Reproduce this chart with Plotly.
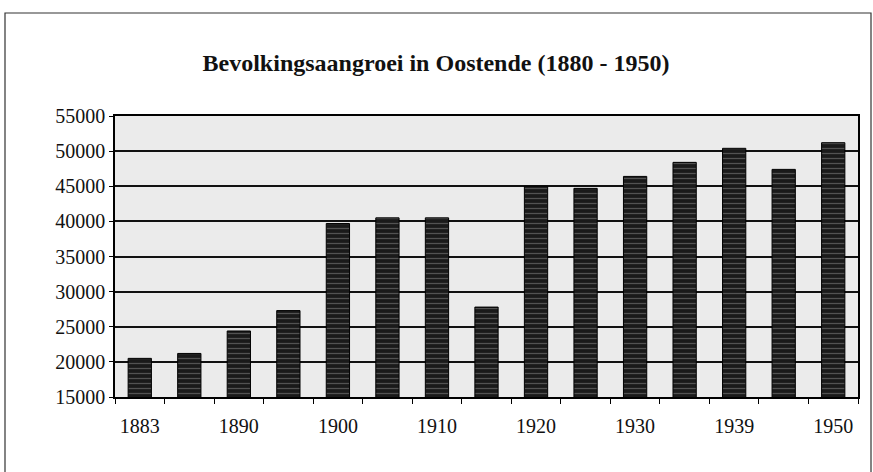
import plotly.graph_objects as go

years = ["1883", "1886", "1890", "1895", "1900", "1905", "1910", "1915",
         "1920", "1925", "1930", "1935", "1939", "1945", "1950"]
population = [20500, 21200, 24400, 27300, 39700, 40500, 40500, 27800,
              45000, 44700, 46400, 48400, 50400, 47400, 51200]
tick_years = ["1883", "1890", "1900", "1910", "1920", "1930", "1939", "1950"]
y_ticks = [15000, 20000, 25000, 30000, 35000, 40000, 45000, 50000, 55000]

x_pos = list(range(len(years)))
tick_pos = [years.index(t) for t in tick_years]

fig = go.Figure(go.Bar(
    x=x_pos, y=population, base=0,
    width=0.47,
    marker=dict(
        color="#1a1a1a",
        line=dict(color="#000000", width=1),
        pattern=dict(shape="-", fgcolor="#8a8a8a", size=5, solidity=0.25),
    ),
))

fig.update_layout(
    width=873, height=472,
    margin=dict(l=115, r=15, t=116, b=75),
    paper_bgcolor="white",
    plot_bgcolor="#ebebeb",
    showlegend=False,
    title=dict(
        text="<b>Bevolkingsaangroei in Oostende (1880 - 1950)</b>",
        font=dict(family="Liberation Serif", size=24, color="#111"),
        x=436 / 873, xanchor="center", xref="container",
        y=1 - 63 / 472, yanchor="middle", yref="container",
    ),
    font=dict(family="Liberation Serif", size=20, color="#111"),
    shapes=[dict(type="rect", xref="paper", yref="paper",
                 x0=-110 / 743, x1=1 + 13 / 743, y0=-0.5, y1=1 + 103 / 281,
                 line=dict(color="#333", width=1.2), layer="below")],
)

fig.update_xaxes(
    range=[-0.5, len(years) - 0.5],
    tickvals=tick_pos, ticktext=tick_years,
    ticks="", showgrid=False, zeroline=False,
    showline=True, linecolor="black", linewidth=1.5, mirror=True,
    ticklabelstandoff=10,
    tickfont=dict(family="Liberation Serif", size=20, color="#111"),
    minor=dict(ticks="outside", tick0=0.5, dtick=1, ticklen=5,
               tickcolor="black", showgrid=False),
)
fig.update_yaxes(
    range=[15000, 55000], tickvals=y_ticks, tickformat="d",
    showgrid=True, gridcolor="#111", gridwidth=1.5,
    ticks="outside", ticklen=4, tickcolor="black",
    tickfont=dict(family="Liberation Serif", size=20, color="#111"),
    showline=True, linecolor="black", linewidth=1.5, mirror=True,
    zeroline=False,
)

fig.write_html("out.html", config={"displayModeBar": False},
               post_script="document.body.style.margin='0';document.body.style.overflow='hidden';")
